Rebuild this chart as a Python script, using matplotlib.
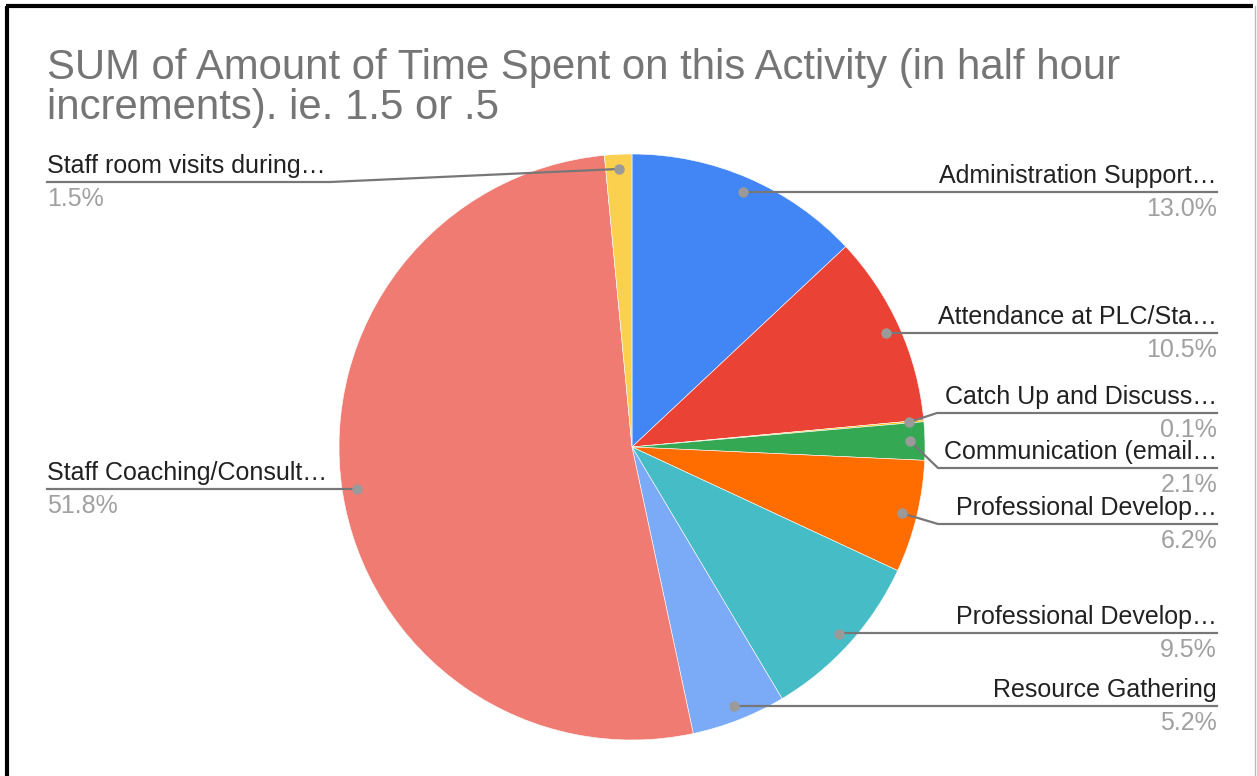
import numpy as np
import matplotlib.pyplot as plt

# data
labels = ["Administration Support…", "Attendance at PLC/Sta…", "Catch Up and Discuss…",
          "Communication (email…", "Professional Develop…", "Professional Develop…",
          "Resource Gathering", "Staff Coaching/Consult…", "Staff room visits during…"]
values = [13.0, 10.5, 0.1, 2.1, 6.2, 9.5, 5.2, 51.8, 1.5]
pct_text = ["13.0%", "10.5%", "0.1%", "2.1%", "6.2%", "9.5%", "5.2%", "51.8%", "1.5%"]
colors = ["#4285F4", "#EA4335", "#FBBC04", "#34A853", "#FF6D01",
          "#46BDC6", "#7BAAF7", "#F07B72", "#FCD04F"]

# label layout (pixel rows of the underline, side, elbow x)
line_y = [192, 333, 413, 468, 524, 633, 706, 489, 182]
side = ["r", "r", "r", "r", "r", "r", "r", "l", "l"]
elbow_x = [None, None, 937, 938, 938, None, None, None, 330]

W, H = 1257, 776
cx, cy, R = 632, 447, 293

fig = plt.figure(figsize=(W / 100, H / 100), dpi=100)
ax = fig.add_axes([0, 0, 1, 1])
plt.rcParams['font.family'] = ['Liberation Sans', 'DejaVu Sans']

ax.pie(values, colors=colors, startangle=90, counterclock=False,
       center=(cx, H - cy), radius=R,
       wedgeprops=dict(linewidth=0.4, edgecolor='white'))
ax.set_xlim(0, W)
ax.set_ylim(0, H)
ax.set_aspect('equal')
ax.axis('off')

# border
ax.plot([7, 7], [0, H - 6], color='black', lw=3, solid_capstyle='butt')
ax.plot([5.5, 1253], [H - 6, H - 6], color='black', lw=3, solid_capstyle='butt')
ax.plot([1255, 1255], [0, H - 6], color='#bbbbbb', lw=1)

# title
ax.text(47, H - 79, "SUM of Amount of Time Spent on this Activity (in half hour",
        fontsize=30.2, color='#757575', va='baseline')
ax.text(47, H - 119, "increments). ie. 1.5 or .5",
        fontsize=30.2, color='#757575', va='baseline')

# leader lines and labels
total = sum(values)
cum = 0
for i, v in enumerate(values):
    mid = (cum + v / 2) / total * 2 * np.pi
    cum += v
    dx = cx + 0.95 * R * np.sin(mid)
    dy = H - (cy - 0.95 * R * np.cos(mid))
    ly = H - line_y[i]
    if side[i] == "r":
        x_end = 1217
        ha = 'right'
    else:
        x_end = 47
        ha = 'left'
    if elbow_x[i] is None:
        xs, ys = [dx, x_end], [ly, ly]
    else:
        xs, ys = [dx, elbow_x[i], x_end], [dy, ly, ly]
    ax.plot(xs, ys, color='#777777', lw=1.6, zorder=3)
    ax.plot(dx, dy, 'o', color='#9a9a9a', ms=6.5, zorder=4)
    ax.text(x_end, ly + 9, labels[i], fontsize=18, color='#212121', ha=ha, va='baseline')
    ax.text(x_end, ly - 24, pct_text[i], fontsize=18, color='#a0a0a0', ha=ha, va='baseline')

fig.savefig("out.png", dpi=100)
